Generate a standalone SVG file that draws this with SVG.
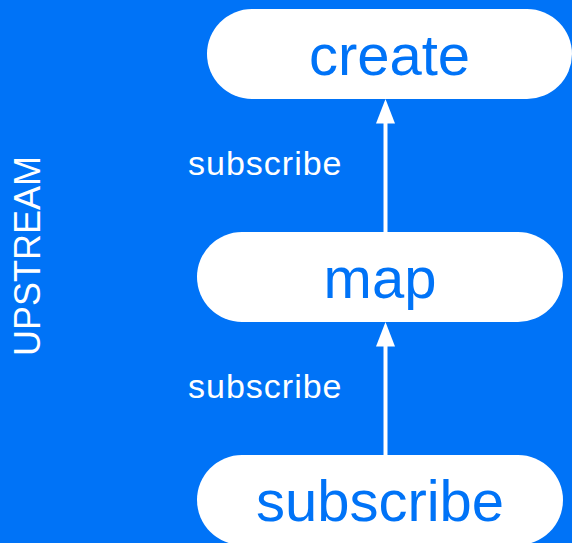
<svg xmlns="http://www.w3.org/2000/svg" width="572" height="543" viewBox="0 0 572 543">
  <style>
    .node rect { fill: #ffffff; }
    .node text { fill: #0073F7; font-family: "Liberation Sans", Arial, sans-serif; font-size: 58px; text-anchor: middle; }
    .label { fill: #ffffff; font-family: "Liberation Sans", Arial, sans-serif; font-size: 34px; letter-spacing: 1px; }
    .edge line { stroke: #ffffff; stroke-width: 4; }
    .side { fill: #ffffff; font-family: "Liberation Sans", Arial, sans-serif; font-size: 36px; text-anchor: middle; }
  </style>
  <defs>
    <marker id="arrow" viewBox="0 0 18 24" refX="9" refY="0" markerWidth="18" markerHeight="24" markerUnits="userSpaceOnUse" orient="auto-start-reverse">
      <path d="M9 0 L18 24 L0 24 Z" fill="#ffffff"/>
    </marker>
  </defs>

  <rect x="0" y="0" width="572" height="543" fill="#0073F7"/>

  <text class="side" transform="translate(40 256) rotate(-90)">UPSTREAM</text>

  <g id="connectors" class="edge">
    <g id="edge-map-create">
      <line x1="385.5" y1="232" x2="385.5" y2="122"/>
      <path d="M385.5 99 L395 123.5 L376 123.5 Z" fill="#ffffff"/>
      <text class="label" x="188" y="175">subscribe</text>
    </g>
    <g id="edge-subscribe-map">
      <line x1="385.5" y1="455" x2="385.5" y2="345"/>
      <path d="M385.5 322 L395 346.5 L376 346.5 Z" fill="#ffffff"/>
      <text class="label" x="188" y="398">subscribe</text>
    </g>
  </g>

  <g id="node-create" class="node">
    <rect x="207" y="9" width="365" height="90" rx="45" ry="45"/>
    <text x="389.5" y="75">create</text>
  </g>

  <g id="node-map" class="node">
    <rect x="197" y="232" width="366" height="90" rx="45" ry="45"/>
    <text x="380" y="298">map</text>
  </g>

  <g id="node-subscribe" class="node">
    <rect x="197" y="455" width="366" height="90" rx="45" ry="45"/>
    <text x="380" y="521">subscribe</text>
  </g>
</svg>
